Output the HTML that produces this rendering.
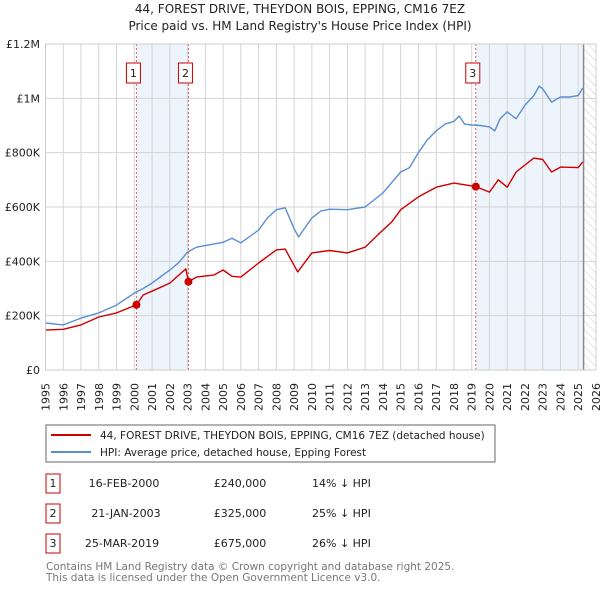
<!DOCTYPE html>
<html><head><meta charset="utf-8"><style>
body{margin:0;background:#fff;font-family:"DejaVu Sans","Liberation Sans",sans-serif;}
svg text{font-family:"DejaVu Sans","Liberation Sans",sans-serif;}
</style></head><body>
<svg id="c" width="600" height="590" xmlns="http://www.w3.org/2000/svg">
<defs><pattern id="hatch" width="6" height="6" patternUnits="userSpaceOnUse" patternTransform="rotate(-45)"><line x1="0" y1="0" x2="0" y2="6" stroke="#ccc" stroke-width="1"/></pattern></defs>
<text x="300" y="13" text-anchor="middle" font-size="12" fill="#222">44, FOREST DRIVE, THEYDON BOIS, EPPING, CM16 7EZ</text>
<text x="300" y="30" text-anchor="middle" font-size="12" fill="#222">Price paid vs. HM Land Registry's House Price Index (HPI)</text>
<g id="plot"></g>
<g>
<rect x="46" y="425" width="449" height="37" fill="#fff" stroke="#666"/>
<line x1="51" y1="435" x2="91" y2="435" stroke="#cc0000" stroke-width="2"/>
<text x="100" y="439" font-size="10.5" fill="#222">44, FOREST DRIVE, THEYDON BOIS, EPPING, CM16 7EZ (detached house)</text>
<line x1="51" y1="452" x2="91" y2="452" stroke="#5b8fd0" stroke-width="2"/>
<text x="100" y="456" font-size="10.5" fill="#222">HPI: Average price, detached house, Epping Forest</text>
</g>
<g font-size="11" fill="#222">
<rect x="46" y="474" width="14" height="19" fill="#fff" stroke="#cc0000"/><text x="53" y="487" text-anchor="middle">1</text>
<text x="124" y="487" text-anchor="middle">16-FEB-2000</text>
<text x="240" y="487" text-anchor="middle">£240,000</text>
<text x="312" y="487">14% ↓ HPI</text>
<rect x="46" y="504" width="14" height="19" fill="#fff" stroke="#cc0000"/><text x="53" y="517" text-anchor="middle">2</text>
<text x="126" y="517" text-anchor="middle">21-JAN-2003</text>
<text x="240" y="517" text-anchor="middle">£325,000</text>
<text x="312" y="517">25% ↓ HPI</text>
<rect x="46" y="534" width="14" height="19" fill="#fff" stroke="#cc0000"/><text x="53" y="547" text-anchor="middle">3</text>
<text x="122" y="547" text-anchor="middle">25-MAR-2019</text>
<text x="240" y="547" text-anchor="middle">£675,000</text>
<text x="312" y="547">26% ↓ HPI</text>
</g>
<text x="46" y="570" font-size="10.5" fill="#777">Contains HM Land Registry data © Crown copyright and database right 2025.</text>
<text x="46" y="581" font-size="10.5" fill="#777">This data is licensed under the Open Government Licence v3.0.</text>
</svg>
<script>
const hpiYears=[1995,1996,1997,1998,1999,2000,2000.5,2001,2002,2002.5,2003,2003.5,2004,2005,2005.5,2006,2007,2007.5,2008,2008.5,2009,2009.25,2010,2010.5,2011,2012,2013,2014,2015,2015.5,2016,2016.5,2017,2017.5,2018,2018.3,2018.6,2019,2019.5,2020,2020.3,2020.6,2021,2021.5,2022,2022.5,2022.8,2023,2023.5,2024,2024.5,2025,2025.25];
const hpiValues=[173,166,191,210,239,283,300,320,368,395,434,452,458,470,485,468,515,560,590,597,520,490,560,585,592,590,600,652,729,745,800,847,880,905,915,935,905,902,900,895,880,925,950,925,975,1010,1045,1035,986,1005,1005,1010,1038];
const redYears=[1995,1996,1997,1998,1999,2000.12,2000.5,2001,2002,2002.9,2003.05,2003.5,2004.5,2005,2005.5,2006,2007,2008,2008.5,2009.2,2010,2011,2012,2013,2014,2014.5,2015,2016,2017,2018,2019.23,2020,2020.5,2021,2021.5,2022.5,2023,2023.5,2024,2025,2025.25];
const redValues=[147,150,166,195,210,240,276,290,320,372,325,342,350,368,345,342,394,442,445,361,431,440,431,452,515,545,590,637,673,688,675,655,700,673,729,780,775,729,747,745,766];
const saleYears=[2000.12,2003.05,2019.23];
const saleValues=[240,325,675];
const saleLabels=["1","2","3"];
const yTicks=[0,200,400,600,800,1000,1200];
const yTickLabels=["£0","£200K","£400K","£600K","£800K","£1M","£1.2M"];
const xTicks=[1995,1996,1997,1998,1999,2000,2001,2002,2003,2004,2005,2006,2007,2008,2009,2010,2011,2012,2013,2014,2015,2016,2017,2018,2019,2020,2021,2022,2023,2024,2025,2026];
const dataEnd=2025.3;

const X0=45.5,X1=596,Y0=370,Y1=44;
const xs=y=>X0+(y-1995)/(2026-1995)*(X1-X0);
const ys=v=>Y0-v/1200*(Y0-Y1);
const NS="http://www.w3.org/2000/svg";
const g=document.getElementById('plot');
function mk(t,a){const e=document.createElementNS(NS,t);for(const k in a)e.setAttribute(k,a[k]);g.appendChild(e);return e;}
let b=mk('rect',{x:xs(saleYears[0]),y:Y1,width:xs(saleYears[1])-xs(saleYears[0]),height:Y0-Y1,fill:'#eef4fc'});


b=mk('rect',{x:xs(saleYears[2]),y:Y1,width:xs(dataEnd)-xs(saleYears[2]),height:Y0-Y1,fill:'#eef4fc'});


b=mk('rect',{x:xs(dataEnd),y:Y1,width:X1-xs(dataEnd),height:Y0-Y1,fill:'url(#hatch)'});


xTicks.forEach(t=>{
 const l=mk('line',{x1:xs(t),x2:xs(t),y1:Y1,y2:Y0,stroke:'#d4d4d4','stroke-width':1});
 
 
 const tx=mk('text',{x:0,y:0,'font-size':11,fill:'#222','text-anchor':'end',transform:`translate(${xs(t)+4},383) rotate(-90)`});
 tx.textContent=t;
 
 
});
yTicks.forEach((t,i)=>{
 const l=mk('line',{x1:X0,x2:X1,y1:ys(t),y2:ys(t),stroke:'#d4d4d4','stroke-width':1});
 
 
 const tx=mk('text',{x:40,y:ys(t)+4,'font-size':11,fill:'#222','text-anchor':'end'});
 tx.textContent=yTickLabels[i];
 
 
});
let el=mk('line',{x1:xs(dataEnd),x2:xs(dataEnd),y1:Y1,y2:Y0,stroke:'#888','stroke-width':1.5});


saleYears.forEach((s,i)=>{
 const l=mk('line',{x1:xs(s),x2:xs(s),y1:Y1,y2:Y0,stroke:'#e06060','stroke-width':1,'stroke-dasharray':'2,2'});
 
 
 const r=mk('rect',{x:xs(s)-10,y:63,width:14,height:20,fill:'#fff',stroke:'#cc0000'});
 
 
 const t=mk('text',{x:xs(s)-3,y:77,'font-size':11,fill:'#222','text-anchor':'middle'});
 t.textContent=saleLabels[i];
 
 
});
function line(xa,va,col,name){
 const d=xa.map((x,i)=>(i?'L':'M')+xs(x).toFixed(1)+','+ys(va[i]).toFixed(1)).join('');
 const p=mk('path',{d:d,fill:'none',stroke:col,'stroke-width':1.4,'stroke-linejoin':'round'});
 
 
}
line(hpiYears,hpiValues,'#5b8fd0','hpi-line');
line(redYears,redValues,'#cc0000','property-line');
saleYears.forEach((s,i)=>{
 const c=mk('circle',{cx:xs(s),cy:ys(saleValues[i]),r:4,fill:'#cc0000'});
 
 
});
const ax=mk('rect',{x:X0,y:Y1,width:X1-X0,height:Y0-Y1,fill:'none',stroke:'#ccc'});


</script>
</body></html>
